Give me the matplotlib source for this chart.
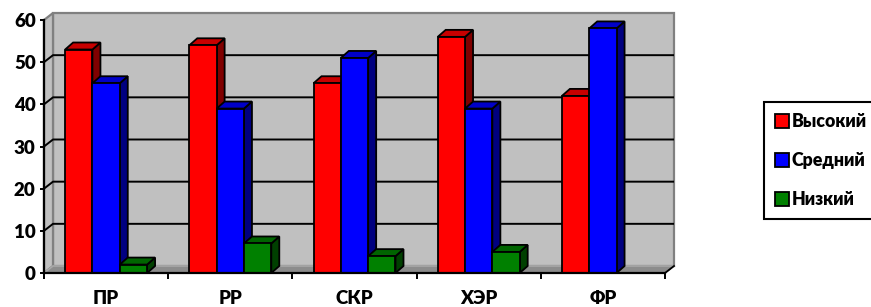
import matplotlib
matplotlib.use('Agg')
import matplotlib.pyplot as plt
from matplotlib.patches import Polygon, Patch
import numpy as np

categories = ['ПР', 'РР', 'СКР', 'ХЭР', 'ФР']
high = [53, 54, 45, 56, 42]
mid = [45, 39, 51, 39, 58]
low = [2, 7, 4, 5, 0]
series_names = ['Высокий', 'Средний', 'Низкий']
yticks = [0, 10, 20, 30, 40, 50, 60]

front_colors = ['#FF0000', '#0000FF', '#008000']
top_colors = ['#C80000', '#0000C8', '#006400']
side_colors = ['#800000', '#000080', '#004000']

plt.rcParams['font.family'] = ['Lato', 'DejaVu Sans']
WEIGHT = 'heavy'
plt.rcParams['font.weight'] = WEIGHT
FS = 13.5
LFS = 12.8

W, H = 871, 307
fig = plt.figure(figsize=(W / 100, H / 100), dpi=100)
ax_l, ax_b, ax_w, ax_h = 44, 34, 621, 253
ax = fig.add_axes([ax_l / W, ax_b / H, ax_w / W, ax_h / H])
ncat = len(categories)
ymax = yticks[-1]
ax.set_xlim(0, ncat)
ax.set_ylim(0, ymax)
ax.patch.set_visible(False)

pxx = ax_w / ncat
pxy = ax_h / ymax
wdx, wdy = 9 / pxx, 7 / pxy      # wall depth
bdx, bdy = 8 / pxx, 7 / pxy      # bar depth

# walls and floor
ax.add_patch(Polygon([(wdx, wdy), (wdx, ymax + wdy), (ncat + wdx, ymax + wdy), (ncat + wdx, wdy)],
                     closed=True, fc='#C0C0C0', ec='#808080', lw=1.6, zorder=0, clip_on=False))
ax.add_patch(Polygon([(0, 0), (0, ymax), (wdx, ymax + wdy), (wdx, wdy)],
                     closed=True, fc='#C0C0C0', ec='#808080', lw=1.6, zorder=0.1, clip_on=False))
ax.add_patch(Polygon([(0, 0), (wdx, wdy), (ncat + wdx, wdy), (ncat, 0)],
                     closed=True, fc='#8C8C8C', ec='#8C8C8C', lw=1.0, zorder=0.2, clip_on=False))
ax.plot([0, wdx, ncat + wdx], [0, wdy, wdy], color='#A8A8A8', lw=1.2, zorder=0.3, clip_on=False)

# gridlines on side & back wall
for v in yticks[1:-1]:
    ax.plot([0, wdx, ncat + wdx], [v, v + wdy, v + wdy], color='black', lw=1.4,
            zorder=1, clip_on=False, solid_capstyle='butt')

bw = 0.22
centers = np.arange(ncat) + 0.5
all_series = [high, mid, low]
for k, vals in enumerate(all_series):
    xs = centers + (k - 1) * bw
    z = 3 + k * 0.1
    ax.bar(xs, vals, width=bw, color=front_colors[k], edgecolor='black', lw=1.3,
           zorder=z, clip_on=False)
    for x, v in zip(xs, vals):
        if v <= 0:
            continue
        x0, x1 = x - bw / 2, x + bw / 2
        ax.add_patch(Polygon([(x1, 0), (x1, v), (x1 + bdx, v + bdy), (x1 + bdx, bdy)],
                             closed=True, fc=side_colors[k], ec='black', lw=1.3,
                             zorder=z - 0.01, clip_on=False, joinstyle='miter'))
        ax.add_patch(Polygon([(x0, v), (x0 + bdx, v + bdy), (x1 + bdx, v + bdy), (x1, v)],
                             closed=True, fc=top_colors[k], ec='black', lw=1.3,
                             zorder=z - 0.01, clip_on=False, joinstyle='miter'))

# floor right edge
ax.plot([ncat, ncat + wdx], [0, wdy], color='black', lw=1.3, zorder=5, clip_on=False)

for s in ['top', 'right']:
    ax.spines[s].set_visible(False)
for s in ['left', 'bottom']:
    ax.spines[s].set_linewidth(1.6)
    ax.spines[s].set_zorder(6)

ax.set_yticks(yticks)
ax.set_yticklabels([str(t) for t in yticks])
ax.tick_params(axis='y', direction='out', length=3, width=1.4, pad=3.0, labelsize=FS)

ax.set_xticks(np.arange(ncat + 1))
ax.set_xticklabels([])
ax.tick_params(axis='x', which='major', direction='out', length=4, width=1.4)
ax.set_xticks(centers, minor=True)
ax.set_xticklabels(categories, minor=True)
ax.tick_params(axis='x', which='minor', length=0, pad=12, labelsize=FS)
for lab in ax.get_xticklabels(minor=True) + ax.get_yticklabels():
    lab.set_fontweight(WEIGHT)

handles = [Patch(facecolor=front_colors[k], edgecolor='black', lw=1.3) for k in range(3)]
leg = fig.legend(handles, series_names, loc='upper left',
                 bbox_to_anchor=(764 / W, 1 - 102 / H), frameon=True, fancybox=False,
                 edgecolor='black', framealpha=1, borderaxespad=0,
                 prop={'weight': WEIGHT, 'size': LFS}, handlelength=0.8, handleheight=0.8,
                 handletextpad=0.15, labelspacing=1.25, borderpad=0.62)
leg.get_frame().set_linewidth(1.5)

fig.savefig('out.png', dpi=100, facecolor='white')
